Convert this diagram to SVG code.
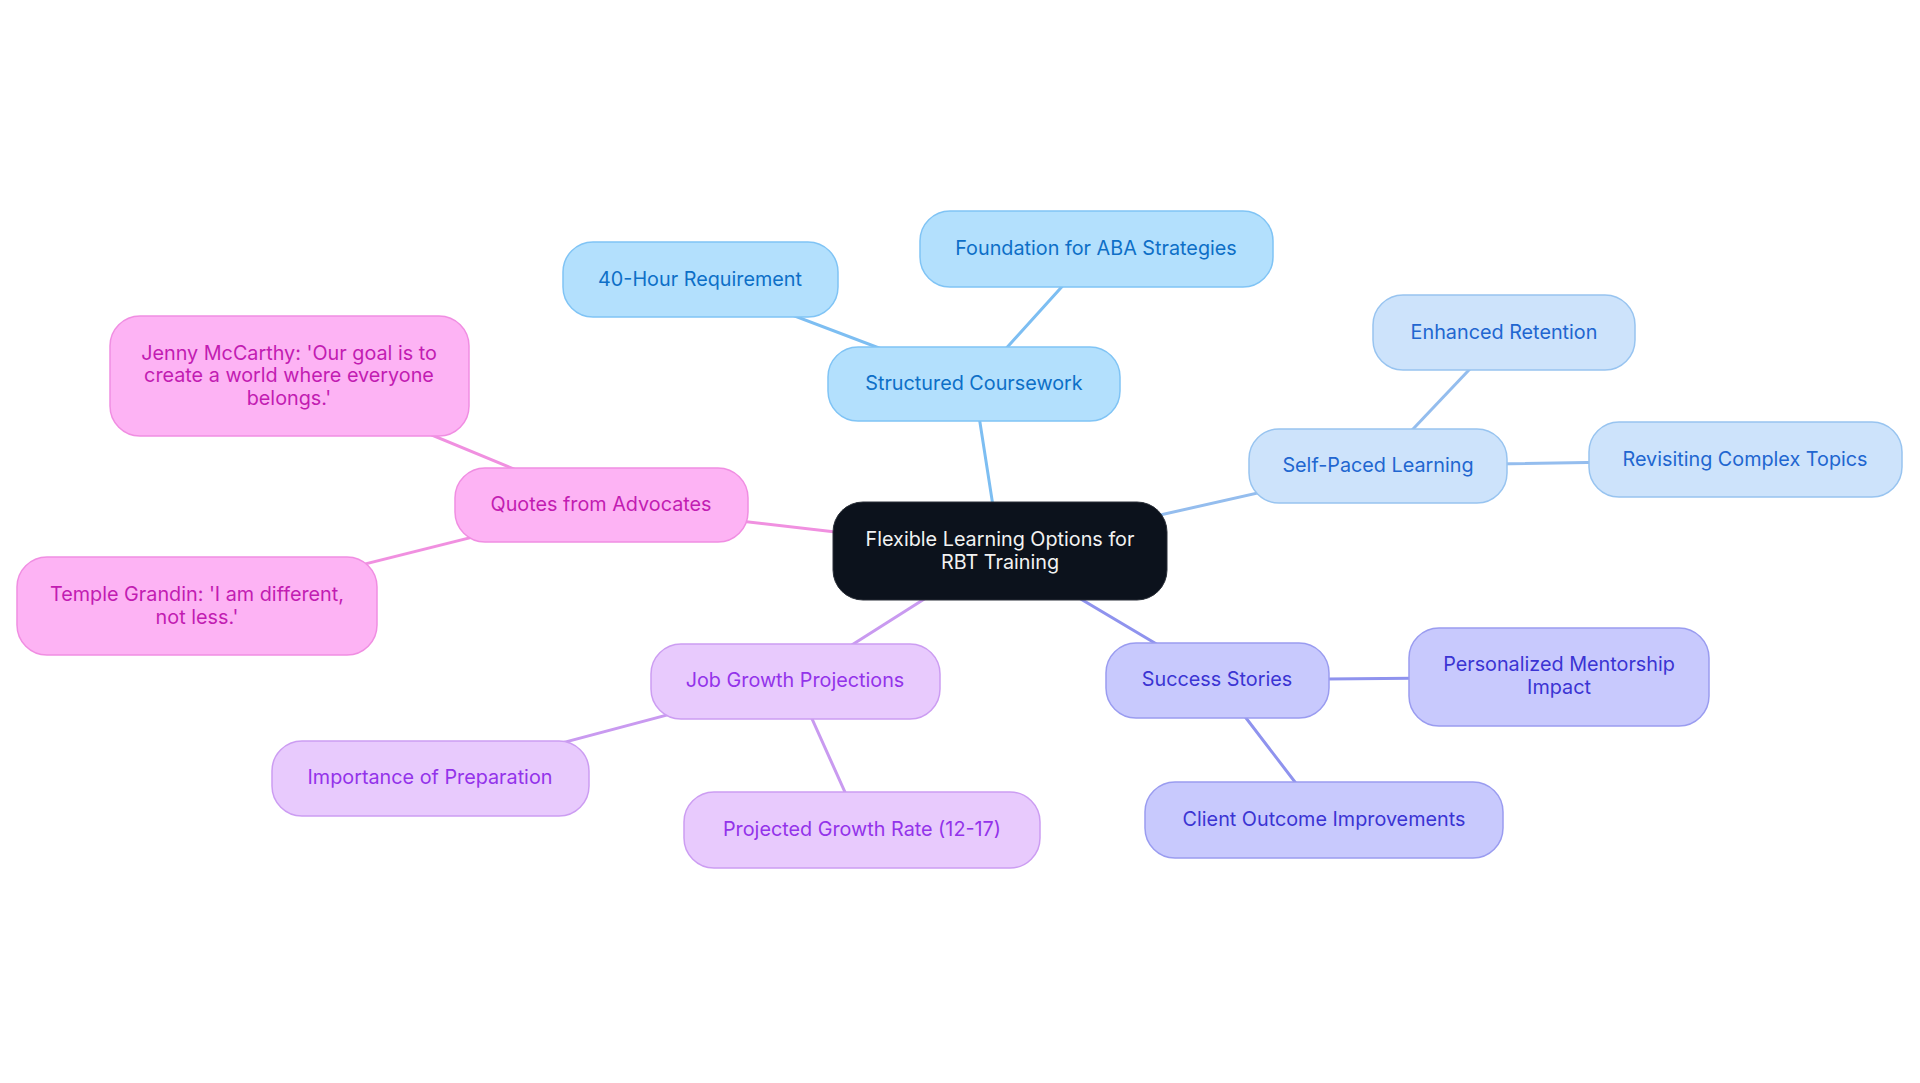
<svg xmlns="http://www.w3.org/2000/svg" width="1920" height="1083" viewBox="0 0 1920 1083">
<style>
text{font-family:Inter,"Noto Sans","Liberation Sans",sans-serif;font-size:19.8px;text-anchor:middle;dominant-baseline:central}
.edges line{stroke-width:3;stroke-linecap:round}
.root rect{fill:#0c121c;stroke:#2a2f38;stroke-width:1}
.root text{fill:#f2f2f2}
.c1 rect{fill:#b3e0fd;stroke:#80c4f5;stroke-width:1.5}.c1 text{fill:#0d6fc7}
.c2 rect{fill:#cde3fb;stroke:#98c4f0;stroke-width:1.5}.c2 text{fill:#2166d0}
.c3 rect{fill:#c8c9fd;stroke:#9a9cf0;stroke-width:1.5}.c3 text{fill:#3b34d3}
.c4 rect{fill:#e8cafd;stroke:#cc9df2;stroke-width:1.5}.c4 text{fill:#9333ea}
.c5 rect{fill:#fdb3f4;stroke:#f08ee2;stroke-width:1.5}.c5 text{fill:#c21cb2}
</style>
<rect width="1920" height="1083" fill="#ffffff"/>
<g class="edges">
<line x1="1000" y1="551" x2="974" y2="384" stroke="#7dbef2"/>
<line x1="974" y1="384" x2="700" y2="280" stroke="#7dbef2"/>
<line x1="974" y1="384" x2="1096" y2="249" stroke="#7dbef2"/>
<line x1="1000" y1="551" x2="1378" y2="466" stroke="#94bdee"/>
<line x1="1378" y1="466" x2="1504" y2="333" stroke="#94bdee"/>
<line x1="1378" y1="466" x2="1745" y2="460" stroke="#94bdee"/>
<line x1="1000" y1="551" x2="1217" y2="680" stroke="#8f93ee"/>
<line x1="1217" y1="680" x2="1559" y2="677" stroke="#8f93ee"/>
<line x1="1217" y1="680" x2="1324" y2="820" stroke="#8f93ee"/>
<line x1="1000" y1="551" x2="795" y2="681" stroke="#c99af0"/>
<line x1="795" y1="681" x2="430" y2="778" stroke="#c99af0"/>
<line x1="795" y1="681" x2="862" y2="830" stroke="#c99af0"/>
<line x1="1000" y1="551" x2="601" y2="505" stroke="#f090e0"/>
<line x1="601" y1="505" x2="289" y2="376" stroke="#f090e0"/>
<line x1="601" y1="505" x2="197" y2="606" stroke="#f090e0"/>
</g>
<g id="root" class="root"><rect x="833" y="502" width="334" height="98" rx="30"/><text x="1000" y="539">Flexible Learning Options for</text><text x="1000" y="562">RBT Training</text></g>
<g id="structured" class="c1"><rect x="828" y="347" width="292" height="74" rx="30"/><text x="974" y="383">Structured Coursework</text></g>
<g id="hour40" class="c1"><rect x="563" y="242" width="275" height="75" rx="30"/><text x="700" y="279">40-Hour Requirement</text></g>
<g id="foundation" class="c1"><rect x="920" y="211" width="353" height="76" rx="30"/><text x="1096" y="248">Foundation for ABA Strategies</text></g>
<g id="selfpaced" class="c2"><rect x="1249" y="429" width="258" height="74" rx="30"/><text x="1378" y="465">Self-Paced Learning</text></g>
<g id="retention" class="c2"><rect x="1373" y="295" width="262" height="75" rx="30"/><text x="1504" y="332">Enhanced Retention</text></g>
<g id="revisiting" class="c2"><rect x="1589" y="422" width="313" height="75" rx="30"/><text x="1745" y="459">Revisiting Complex Topics</text></g>
<g id="success" class="c3"><rect x="1106" y="643" width="223" height="75" rx="30"/><text x="1217" y="679">Success Stories</text></g>
<g id="mentorship" class="c3"><rect x="1409" y="628" width="300" height="98" rx="30"/><text x="1559" y="664">Personalized Mentorship</text><text x="1559" y="687">Impact</text></g>
<g id="client" class="c3"><rect x="1145" y="782" width="358" height="76" rx="30"/><text x="1324" y="819">Client Outcome Improvements</text></g>
<g id="job" class="c4"><rect x="651" y="644" width="289" height="75" rx="30"/><text x="795" y="680">Job Growth Projections</text></g>
<g id="importance" class="c4"><rect x="272" y="741" width="317" height="75" rx="30"/><text x="430" y="777">Importance of Preparation</text></g>
<g id="projected" class="c4"><rect x="684" y="792" width="356" height="76" rx="30"/><text x="862" y="829">Projected Growth Rate (12-17)</text></g>
<g id="quotes" class="c5"><rect x="455" y="468" width="293" height="74" rx="30"/><text x="601" y="504">Quotes from Advocates</text></g>
<g id="jenny" class="c5"><rect x="110" y="316" width="359" height="120" rx="30"/><text x="289" y="353">Jenny McCarthy: 'Our goal is to</text><text x="289" y="375">create a world where everyone</text><text x="289" y="398">belongs.'</text></g>
<g id="temple" class="c5"><rect x="17" y="557" width="360" height="98" rx="30"/><text x="197" y="594">Temple Grandin: 'I am different,</text><text x="197" y="617">not less.'</text></g>
</svg>
